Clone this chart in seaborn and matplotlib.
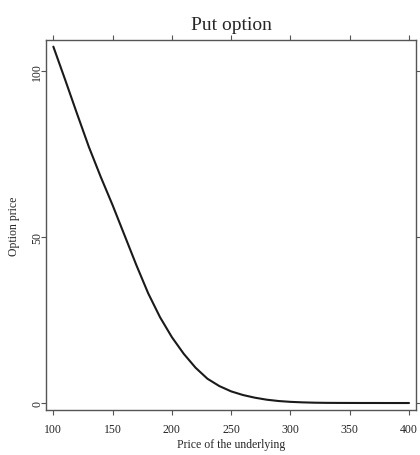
import matplotlib
matplotlib.use("Agg")
import matplotlib.pyplot as plt
import seaborn as sns
import pandas as pd

underlying = [100, 110, 120, 130, 140, 150, 160, 170, 180, 190, 200, 210, 220,
              230, 240, 250, 260, 270, 280, 290, 300, 310, 320, 330, 340, 350,
              360, 370, 380, 390, 400]
option_price = [107.2, 97.2, 87.0, 77.0, 68.0, 59.5, 50.5, 41.5, 33.0, 25.8,
                19.8, 14.8, 10.6, 7.3, 5.1, 3.5, 2.4, 1.6, 1.0, 0.6, 0.35, 0.2,
                0.1, 0.05, 0.03, 0.02, 0.01, 0.01, 0.0, 0.0, 0.0]
x_ticks = [100, 150, 200, 250, 300, 350, 400]
y_ticks = [0, 50, 100]

sns.set_theme(style="ticks")
plt.rcParams['font.family'] = ['Liberation Serif', 'DejaVu Serif']

df = pd.DataFrame({"Price of the underlying": underlying, "Option price": option_price})

fig = plt.figure(figsize=(4.2, 4.56), dpi=100)
ax = fig.add_axes([46/420, 1-411/456, (416-46)/420, (411-41)/456])

sns.lineplot(data=df, x="Price of the underlying", y="Option price", ax=ax,
             color="#1a1a1a", linewidth=1.5)

ax.set_xlim(93.8, 405.9)
ax.set_ylim(-2.1, 109.2)
ax.set_xticks(x_ticks)
ax.set_yticks(y_ticks)
ax.set_xticklabels([str(v) for v in x_ticks], fontsize=8.5)
ax.set_yticklabels([str(v) for v in y_ticks], fontsize=8.5, rotation=90, va="center")

ax.tick_params(axis="both", direction="out", length=3.5, width=0.8, color="#555555",
               top=True, right=True, labeltop=False, labelright=False)
ax.tick_params(axis="x", pad=6)
ax.tick_params(axis="y", pad=-1.5)
for s in ax.spines.values():
    s.set_visible(True)
    s.set_color("#555555")
    s.set_linewidth(1.0)

ax.set_xlabel("Price of the underlying", fontsize=8.5, labelpad=2)
ax.set_ylabel("Option price", fontsize=8.5, labelpad=8)
ax.set_title("Put option", fontsize=14, pad=8)

fig.savefig("out.png", dpi=100)
